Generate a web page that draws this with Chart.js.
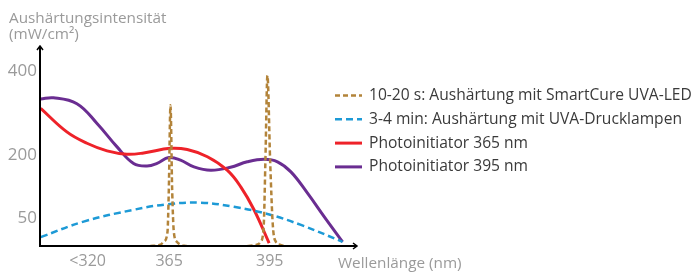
<!DOCTYPE html>
<html>
<head>
<meta charset="UTF-8" />
<title>Aushärtungsintensität</title>
<script src="https://cdn.jsdelivr.net/npm/chart.js"></script>
<style>
    html, body { margin: 0; padding: 0; background: #fff; }
</style>
</head>
<body>
<canvas id="myChart" width="695" height="273"></canvas>
<script>
// Achsen
var xTickValues = [340.7, 365, 395];
var xTickLabels = ['<320', '365', '395'];
var yTickValues = [50, 200, 400];

var seriesLabels = [
    '10-20 s: Aushärtung mit SmartCure UVA-LED',
    '3-4 min: Aushärtung mit UVA-Drucklampen',
    'Photoinitiator 365 nm',
    'Photoinitiator 395 nm'
];

// SmartCure UVA-LED (zwei schmale Peaks)
var ledNm  = [359.4, 362.4, 363.4, 364.5, 364.9, 365.4, 365.9, 366.4, 367.3, 368.4, 370.2, 380, 388.4, 391.1, 392.3, 393.2, 393.7, 394.3, 395.1, 395.9, 396.8, 398.0, 399.5];
var ledVal = [-15, -12, -5, 18, 118, 319, 118, 18, -5, -12, -15, null, -15, -12, -5, 35, 189, 390, 189, 35, -5, -12, -15];

// UVA-Drucklampen
var lampNm  = [326.7, 339.5, 354.4, 364.4, 374.4, 384.3, 394.3, 404.3, 416.7];
var lampVal = [6, 43, 71, 84, 88, 78, 61, 35, -5];

// Photoinitiator 365 nm
var pi365Nm  = [326.7, 334.5, 340.5, 346.5, 352.4, 357.4, 365.4, 370.4, 376.4, 382.3, 386.3, 390.3, 394.8];
var pi365Val = [312, 256, 229, 211, 203, 206, 217, 214, 197, 165, 126, 71, -8];

// Photoinitiator 395 nm
var pi395Nm  = [326.7, 330.5, 337.5, 343.5, 349.4, 354.4, 358.4, 361.4, 364.9, 368.4, 372.4, 377.4, 383.3, 388.3, 393.3, 397.3, 401.3, 406.3, 411.2, 416.7];
var pi395Val = [334, 337, 323, 276, 221, 181, 175, 181, 195, 189, 173, 165, 172, 185, 191, 185, 161, 110, 55, -5];

var chartFont = '"Open Sans", "Noto Sans", sans-serif';
Chart.defaults.font.family = chartFont;

function pts(xs, ys) {
    return xs.map(function (x, i) { return { x: x, y: ys[i] }; });
}

// Achsenpfeile, Achsentitel und Legende
var decoPlugin = {
    id: 'deco',
    afterDraw: function (chart) {
        var c = chart.ctx;
        var a = chart.chartArea;
        c.save();
        c.strokeStyle = '#000';
        c.lineWidth = 2;
        c.setLineDash([]);
        c.beginPath();
        c.moveTo(a.left, a.top);
        c.lineTo(a.left, a.bottom);
        c.lineTo(a.right, a.bottom);
        c.stroke();
        c.lineWidth = 1.5;
        c.beginPath();
        c.moveTo(a.left - 3, a.top + 4);
        c.lineTo(a.left, a.top);
        c.lineTo(a.left + 3, a.top + 4);
        c.moveTo(a.right - 4, a.bottom - 3);
        c.lineTo(a.right, a.bottom);
        c.lineTo(a.right - 4, a.bottom + 3);
        c.stroke();

        c.fillStyle = '#9a9a9a';
        c.font = '15.3px ' + chartFont;
        c.textBaseline = 'alphabetic';
        c.textAlign = 'left';
        c.fillText('Aushärtungsintensität', 9, 22.5);
        c.fillText('(mW/cm²)', 9, 39);
        c.fillText('Wellenlänge (nm)', 338, 267.5);

        // Legende
        chart.data.datasets.forEach(function (ds, i) {
            var y = 95.5 + i * 23.8;
            c.strokeStyle = ds.borderColor;
            c.lineWidth = ds.borderWidth;
            c.setLineDash(ds.borderDash || []);
            c.beginPath();
            c.moveTo(335, y);
            c.lineTo(362, y);
            c.stroke();
            c.setLineDash([]);
            c.fillStyle = '#3a3a3a';
            c.font = '15.6px ' + chartFont;
            c.textBaseline = 'middle';
            c.fillText(ds.label, 369, y);
        });
        c.restore();
    }
};

var ctx = document.getElementById('myChart').getContext('2d');
var myChart = new Chart(ctx, {
    type: 'line',
    data: {
        datasets: [{
            label: seriesLabels[0],
            data: pts(ledNm, ledVal),
            borderColor: '#b3843a',
            borderWidth: 2.5,
            borderDash: [5, 3],
            pointRadius: 0,
            cubicInterpolationMode: 'monotone',
            spanGaps: false
        }, {
            label: seriesLabels[1],
            data: pts(lampNm, lampVal),
            borderColor: '#1d9ad6',
            borderWidth: 2.5,
            borderDash: [7, 4],
            pointRadius: 0,
            tension: 0.4
        }, {
            label: seriesLabels[2],
            data: pts(pi365Nm, pi365Val),
            borderColor: '#ee2229',
            borderWidth: 3,
            pointRadius: 0,
            tension: 0.4
        }, {
            label: seriesLabels[3],
            data: pts(pi395Nm, pi395Val),
            borderColor: '#6a2d91',
            borderWidth: 3,
            pointRadius: 0,
            tension: 0.4
        }]
    },
    options: {
        responsive: false,
        animation: false,
        devicePixelRatio: 1,
        layout: { padding: { top: 46, right: 338, left: 0, bottom: 0 } },
        plugins: {
            legend: { display: false },
            tooltip: { enabled: false }
        },
        scales: {
            x: {
                type: 'linear',
                min: 326.5,
                max: 421,
                grid: { display: false, drawTicks: false },
                border: { display: false },
                afterBuildTicks: function (s) {
                    s.ticks = xTickValues.map(function (v) { return { value: v }; });
                },
                afterFit: function (s) { s.height = 27; },
                ticks: {
                    autoSkip: false,
                    maxRotation: 0,
                    padding: 6,
                    color: '#9a9a9a',
                    font: { size: 16 },
                    callback: function (v, i) { return xTickLabels[i]; }
                }
            },
            y: {
                type: 'linear',
                min: -15,
                max: 460,
                grid: { display: false, drawTicks: false },
                border: { display: false },
                afterBuildTicks: function (s) {
                    s.ticks = yTickValues.map(function (v) { return { value: v }; });
                },
                afterFit: function (s) { s.width = 40; },
                ticks: {
                    padding: 3,
                    color: '#9a9a9a',
                    font: { size: 17 }
                }
            }
        }
    },
    plugins: [decoPlugin]
});
</script>
</body>
</html>
